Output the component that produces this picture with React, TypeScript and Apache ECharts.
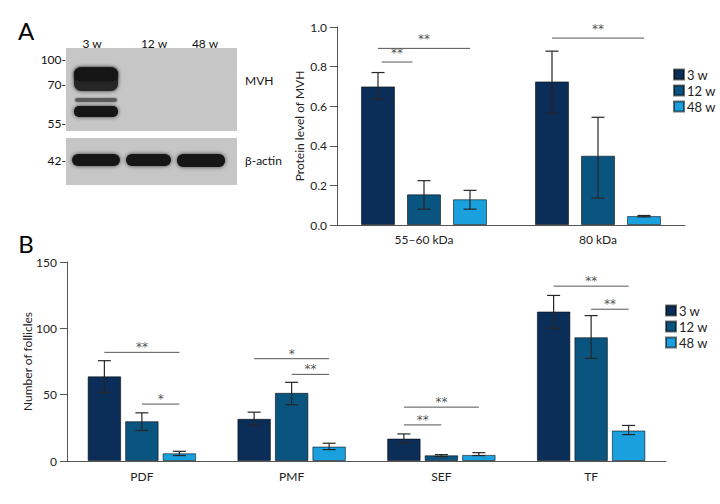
import React, { useEffect, useRef } from "react";
import * as echarts from "echarts";

const FONT = '"Liberation Sans Narrow", Lato, "Roboto", sans-serif';
const STAR_FONT = '"DejaVu Sans", sans-serif';

const seriesNames = ["3 w", "12 w", "48 w"];
const seriesColors = ["#0b2e58", "#0a5580", "#1aa0dd"];

// Panel A (right): protein level of MVH
const proteinCategories = ["55–60 kDa", "80 kDa"];
const protein3w = [0.70, 0.725];
const protein12w = [0.155, 0.35];
const protein48w = [0.13, 0.045];
const proteinErr3w = [[0.635, 0.77], [0.565, 0.878]];
const proteinErr12w = [[0.08, 0.224], [0.136, 0.544]];
const proteinErr48w = [[0.08, 0.175], [0.041, 0.048]];
// [category, fromBar, toBar, y, label]
const proteinSig: (number | string)[][] = [
  [0, 0, 2, 0.892, "**"],
  [0, 0.08, 0.75, 0.823, "**"],
  [1, 0, 2, 0.944, "**"],
];

// Panel B: number of follicles
const follicleCategories = ["PDF", "PMF", "SEF", "TF"];
const follicle3w = [63.8, 31.8, 16.9, 112.7];
const follicle12w = [30.0, 51.4, 4.3, 93.3];
const follicle48w = [5.8, 10.9, 4.6, 23.0];
const follicleErr3w = [[51.7, 75.6], [26.8, 36.8], [13.4, 20.4], [100.1, 124.8]];
const follicleErr12w = [[23.0, 36.3], [42.4, 59.3], [3.3, 4.8], [77.4, 109.6]];
const follicleErr48w = [[4.1, 7.3], [8.6, 13.4], [4.1, 6.3], [19.9, 26.8]];
const follicleSig: (number | string)[][] = [
  [0, 0, 2, 81.9, "**"],
  [0, 1, 2, 42.9, "*"],
  [1, 0, 2, 77.1, "*"],
  [1, 1, 2, 65.3, "**"],
  [2, 0, 2, 40.6, "**"],
  [2, 0, 1, 27.2, "**"],
  [3, 0, 2, 131.8, "**"],
  [3, 1, 2, 114.4, "**"],
];

// Western blot labels
const blotLanes = ["3 w", "12 w", "48 w"];
const blotMarkers = ["100-", "70-", "55-", "42-"];
const blotTargets = ["MVH", "β-actin"];

const TOP_BAR_W = 34;
const TOP_GAP = 12;
const BOT_BAR_W = 33.5;
const BOT_GAP = 4;

function errorSeries(data: number[][], barIndex: number, step: number, axis: number) {
  return {
    type: "custom",
    name: "err" + axis + "_" + barIndex,
    xAxisIndex: axis,
    yAxisIndex: axis,
    z: 5,
    silent: true,
    data: data.map((d, i) => [i, d[0], d[1]]),
    encode: { x: 0, y: [1, 2] },
    renderItem: (params: any, api: any) => {
      const c = api.value(0);
      const lo = api.coord([c, api.value(1)]);
      const hi = api.coord([c, api.value(2)]);
      const x = lo[0] + (barIndex - 1) * step;
      const hw = 6.5;
      const style = { stroke: "#262626", lineWidth: 1.2 };
      return {
        type: "group",
        children: [
          { type: "line", shape: { x1: x, y1: lo[1], x2: x, y2: hi[1] }, style },
          { type: "line", shape: { x1: x - hw, y1: hi[1], x2: x + hw, y2: hi[1] }, style },
          { type: "line", shape: { x1: x - hw, y1: lo[1], x2: x + hw, y2: lo[1] }, style },
        ],
      };
    },
  };
}

function sigSeries(data: (number | string)[][], step: number, axis: number, textLift: number) {
  return {
    type: "custom",
    name: "sig" + axis,
    xAxisIndex: axis,
    yAxisIndex: axis,
    z: 6,
    silent: true,
    data: data.map((d) => [d[0], d[1], d[2], d[3], d[4]]),
    dimensions: ["cat", "from", "to", "y", "label"],
    encode: { x: 0, y: 3 },
    renderItem: (params: any, api: any) => {
      const d = data[params.dataIndex];
      const p = api.coord([d[0], d[3]]);
      const x1 = p[0] + ((d[1] as number) - 1) * step;
      const x2 = p[0] + ((d[2] as number) - 1) * step;
      return {
        type: "group",
        children: [
          { type: "line", shape: { x1, y1: p[1], x2, y2: p[1] }, style: { stroke: "#555", lineWidth: 1 } },
          {
            type: "text",
            x: (x1 + x2) / 2,
            y: p[1] - textLift,
            style: {
              text: d[4] as string,
              fill: "#555",
              font: "12px " + STAR_FONT,
              align: "center",
              verticalAlign: "middle",
            },
          },
        ],
      };
    },
  };
}

function barSeries(name: string, data: number[], color: string, axis: number, bw: number, gap: string) {
  return {
    type: "bar",
    name,
    xAxisIndex: axis,
    yAxisIndex: axis,
    data,
    barWidth: bw,
    barGap: gap,
    itemStyle: { color, borderColor: "rgba(0,0,0,0.55)", borderWidth: 1 },
  };
}

function blotGraphics() {
  const els: any[] = [];
  const bandFill = "#141414";
  const shadow = { shadowBlur: 4, shadowColor: "rgba(0,0,0,0.7)" };
  els.push({ type: "rect", shape: { x: 66, y: 48, width: 171, height: 83 }, style: { fill: "#c6c6c6" } });
  els.push({ type: "rect", shape: { x: 66, y: 138, width: 171, height: 47 }, style: { fill: "#c6c6c6" } });
  // MVH bands (3 w lane)
  els.push({ type: "rect", shape: { x: 74, y: 67, width: 44, height: 24, r: 7 }, style: { fill: "#262626", ...shadow } });
  els.push({ type: "rect", shape: { x: 74, y: 68, width: 44, height: 13, r: 6 }, style: { fill: bandFill, shadowBlur: 3, shadowColor: "rgba(0,0,0,0.6)" } });
  els.push({ type: "rect", shape: { x: 75, y: 98, width: 42, height: 4, r: 2 }, style: { fill: "#5a5a5a", shadowBlur: 2, shadowColor: "rgba(0,0,0,0.4)" } });
  els.push({ type: "rect", shape: { x: 74, y: 106, width: 44, height: 11, r: 5 }, style: { fill: bandFill, ...shadow } });
  // beta-actin bands
  els.push({ type: "rect", shape: { x: 72, y: 154, width: 48, height: 12, r: 6 }, style: { fill: bandFill, ...shadow } });
  els.push({ type: "rect", shape: { x: 126, y: 154, width: 45, height: 12, r: 6 }, style: { fill: bandFill, ...shadow } });
  els.push({ type: "rect", shape: { x: 177, y: 154, width: 48, height: 13, r: 6 }, style: { fill: bandFill, ...shadow } });
  const laneX = [92, 154, 205];
  blotLanes.forEach((t, i) => {
    els.push({ type: "text", x: laneX[i], y: 43, style: { text: t, font: "12px " + FONT, fill: "#111", align: "center", verticalAlign: "middle" } });
  });
  const markerY = [59, 84, 123, 160];
  blotMarkers.forEach((t, i) => {
    els.push({ type: "text", x: 66, y: markerY[i], style: { text: t, font: "12px " + FONT, fill: "#111", align: "right", verticalAlign: "middle" } });
  });
  const targetY = [80, 160];
  blotTargets.forEach((t, i) => {
    els.push({ type: "text", x: 245, y: targetY[i], style: { text: t, font: "12px " + FONT, fill: "#111", align: "left", verticalAlign: "middle" } });
  });
  els.push({ type: "text", x: 26, y: 30, style: { text: "A", font: "24px " + FONT, fill: "#000", align: "center", verticalAlign: "middle" } });
  els.push({ type: "text", x: 26, y: 243, style: { text: "B", font: "24px " + FONT, fill: "#000", align: "center", verticalAlign: "middle" } });
  return els;
}

export default function App() {
  const ref = useRef<HTMLDivElement>(null);
  useEffect(() => {
    if (!ref.current) return;
    const chart = echarts.init(ref.current, null, { renderer: "svg" });
    const axisLine = { lineStyle: { color: "#555", width: 1 } };
    const labelStyle = { color: "#222", fontSize: 12, fontFamily: FONT };
    const topStep = TOP_BAR_W + TOP_GAP;
    const botStep = BOT_BAR_W + BOT_GAP;
    const option: any = {
      animation: false,
      backgroundColor: "#fff",
      textStyle: { fontFamily: FONT },
      grid: [
        { left: 337, right: 35, top: 27, bottom: 279 },
        { left: 67, right: 54, top: 262, bottom: 43 },
      ],
      legend: [
        {
          data: seriesNames, orient: "vertical", left: 668, top: 63,
          itemWidth: 10, itemHeight: 10, itemGap: 3, icon: "rect",
          textStyle: { fontSize: 13, color: "#222", fontFamily: FONT, padding: [0, 0, 0, -2] },
        },
        {
          data: seriesNames, orient: "vertical", left: 660, top: 299,
          itemWidth: 10, itemHeight: 10, itemGap: 3, icon: "rect",
          textStyle: { fontSize: 13, color: "#222", fontFamily: FONT, padding: [0, 0, 0, -2] },
        },
      ],
      xAxis: [
        {
          type: "category", gridIndex: 0, data: proteinCategories,
          axisLine, axisTick: { show: false }, axisLabel: { ...labelStyle, margin: 8 },
        },
        {
          type: "category", gridIndex: 1, data: follicleCategories,
          axisLine, axisTick: { show: false }, axisLabel: { ...labelStyle, margin: 9 },
        },
      ],
      yAxis: [
        {
          type: "value", gridIndex: 0, min: 0, max: 1, interval: 0.2,
          name: "Protein level of MVH", nameLocation: "middle", nameGap: 32, nameMoveOverlap: false,
          nameTextStyle: { ...labelStyle },
          axisLine: { show: true, ...axisLine },
          axisTick: { show: true, length: 7, lineStyle: { color: "#555" } },
          axisLabel: { ...labelStyle, margin: 10, formatter: (v: number) => v.toFixed(1) },
          splitLine: { show: false },
        },
        {
          type: "value", gridIndex: 1, min: 0, max: 150, interval: 50,
          name: "Number of follicles", nameLocation: "middle", nameGap: 34, nameMoveOverlap: false,
          nameTextStyle: { ...labelStyle },
          axisLine: { show: true, ...axisLine },
          axisTick: { show: true, length: 7, lineStyle: { color: "#555" } },
          axisLabel: { ...labelStyle, margin: 10 },
          splitLine: { show: false },
        },
      ],
      series: [
        barSeries(seriesNames[0], protein3w, seriesColors[0], 0, TOP_BAR_W, (TOP_GAP / TOP_BAR_W * 100).toFixed(1) + "%"),
        barSeries(seriesNames[1], protein12w, seriesColors[1], 0, TOP_BAR_W, (TOP_GAP / TOP_BAR_W * 100).toFixed(1) + "%"),
        barSeries(seriesNames[2], protein48w, seriesColors[2], 0, TOP_BAR_W, (TOP_GAP / TOP_BAR_W * 100).toFixed(1) + "%"),
        barSeries(seriesNames[0], follicle3w, seriesColors[0], 1, BOT_BAR_W, (BOT_GAP / BOT_BAR_W * 100).toFixed(1) + "%"),
        barSeries(seriesNames[1], follicle12w, seriesColors[1], 1, BOT_BAR_W, (BOT_GAP / BOT_BAR_W * 100).toFixed(1) + "%"),
        barSeries(seriesNames[2], follicle48w, seriesColors[2], 1, BOT_BAR_W, (BOT_GAP / BOT_BAR_W * 100).toFixed(1) + "%"),
        errorSeries(proteinErr3w, 0, topStep, 0),
        errorSeries(proteinErr12w, 1, topStep, 0),
        errorSeries(proteinErr48w, 2, topStep, 0),
        errorSeries(follicleErr3w, 0, botStep, 1),
        errorSeries(follicleErr12w, 1, botStep, 1),
        errorSeries(follicleErr48w, 2, botStep, 1),
        sigSeries(proteinSig, topStep, 0, 9),
        sigSeries(follicleSig, botStep, 1, 5),
      ],
      graphic: blotGraphics(),
    };
    chart.setOption(option);
    return () => chart.dispose();
  }, []);
  return <div ref={ref} style={{ position: "fixed", left: 0, top: 0, width: 720, height: 504, background: "#fff" }} />;
}
